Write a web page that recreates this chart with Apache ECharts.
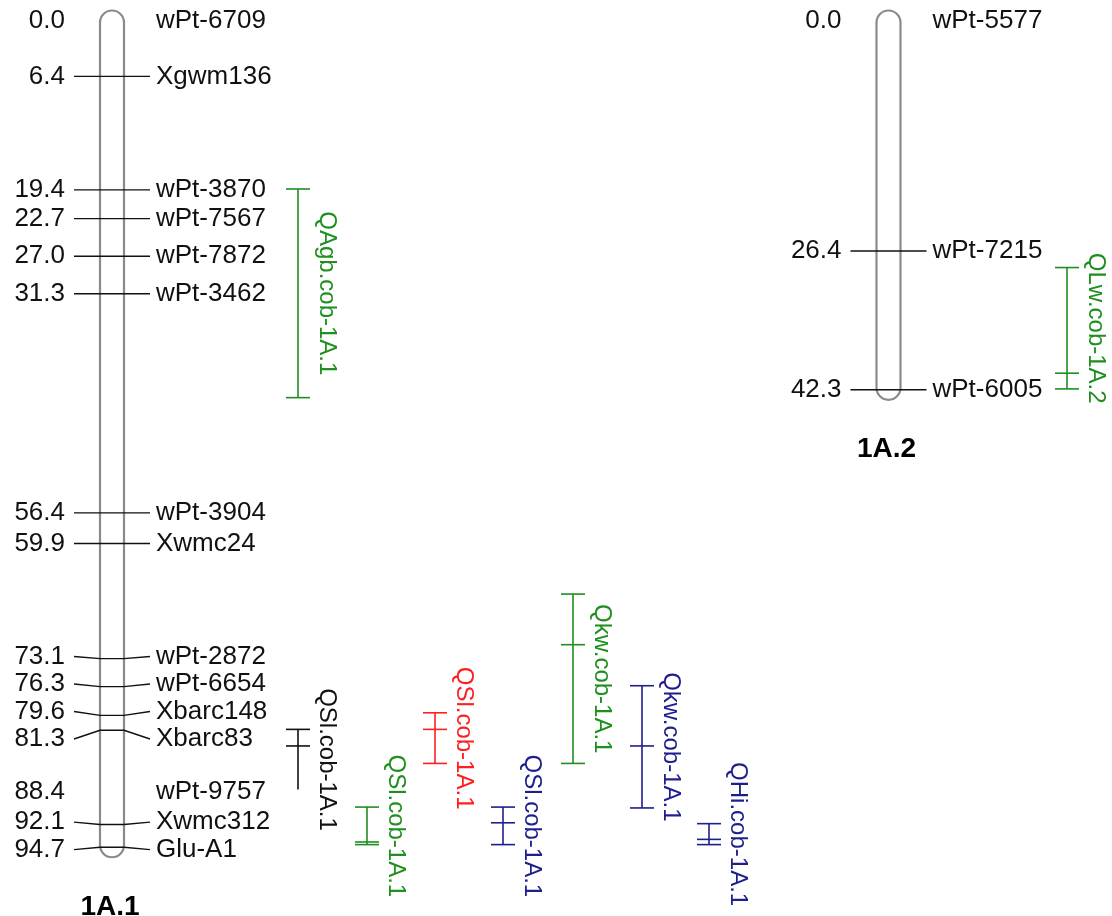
<!DOCTYPE html>
<html><head><meta charset="utf-8">
<script src="https://cdn.jsdelivr.net/npm/echarts@6/dist/echarts.min.js"></script>
<style>html,body{margin:0;padding:0;background:#fff}#c{width:1112px;height:916px}</style>
</head><body><div id="c"></div>
<script>
// ---------- DATA ----------
const chromosomes = ['1A.1', '1A.2'];
const chr1AMarkers = ['wPt-6709','Xgwm136','wPt-3870','wPt-7567','wPt-7872','wPt-3462','wPt-3904','Xwmc24','wPt-2872','wPt-6654','Xbarc148','Xbarc83','wPt-9757','Xwmc312','Glu-A1'];
const chr1APos     = [0.0, 6.4, 19.4, 22.7, 27.0, 31.3, 56.4, 59.9, 73.1, 76.3, 79.6, 81.3, 88.4, 92.1, 94.7];
const chr2AMarkers = ['wPt-5577','wPt-7215','wPt-6005'];
const chr2APos     = [0.0, 26.4, 42.3];
const markersWithoutLine = ['wPt-6709','wPt-5577','wPt-9757'];

const qtlNames  = ['QAgb.cob-1A.1','QSl.cob-1A.1','QSl.cob-1A.1','QSl.cob-1A.1','QSl.cob-1A.1','Qkw.cob-1A.1','Qkw.cob-1A.1','QHi.cob-1A.1','QLw.cob-1A.2'];
const qtlChrom  = ['1A.1','1A.1','1A.1','1A.1','1A.1','1A.1','1A.1','1A.1','1A.2'];
const qtlStart  = [19.3, 81.2, 90.1, 79.3, 90.1, 65.7, 76.2, 92.0, 28.3];
const qtlEnd    = [43.2, 88.1, 94.4, 85.1, 94.4, 85.1, 90.2, 94.4, 42.2];
const qtlTicks  = [[19.3, 43.2], [81.2, 83.1], [90.1, 94.1, 94.4], [79.3, 81.2, 85.1], [90.1, 91.9, 94.4],
                   [65.7, 71.5, 85.1], [76.2, 83.1, 90.2], [92.0, 93.8, 94.4], [28.3, 40.4, 42.2]];

// ---------- LAYOUT / STYLE ----------
const layout = {
  chrX: { '1A.1': 112, '1A.2': 888.5 },
  chrHalfWidth: 12,
  markerHalf: 38,
  numGap: 47,
  nameGap: 44,
  labelGap: 27.5,
  qtlX: [298, 298, 367, 435, 503, 573, 642, 709, 1067],
  qtlColors: ['#1f8f1f', '#111111', '#1f8f1f', '#ff1f1f', '#1e1e8c', '#1f8f1f', '#1e1e8c', '#1e1e8c', '#1f8f1f'],
  capHalf: 12,
  qtlLabelDx: 29
};
const FONT = 'Liberation Sans, Arial, sans-serif';
const chrData = {
  '1A.1': { names: chr1AMarkers, pos: chr1APos },
  '1A.2': { names: chr2AMarkers, pos: chr2APos }
};

function spread(ys, gap) {
  let clusters = ys.map((y, i) => ({ idx: [i], mean: y }));
  let changed = true;
  while (changed) {
    changed = false;
    for (let i = 0; i < clusters.length - 1; i++) {
      const a = clusters[i], b = clusters[i + 1];
      const aEnd = a.mean + gap * (a.idx.length - 1) / 2;
      const bStart = b.mean - gap * (b.idx.length - 1) / 2;
      if (bStart - aEnd < gap - 1e-6) {
        const idx = a.idx.concat(b.idx);
        const mean = idx.reduce((s, j) => s + ys[j], 0) / idx.length;
        clusters.splice(i, 2, { idx, mean });
        changed = true; break;
      }
    }
  }
  const out = [];
  clusters.forEach(c => {
    const start = c.mean - gap * (c.idx.length - 1) / 2;
    c.idx.forEach((j, k) => { out[j] = start + k * gap; });
  });
  return out;
}

function renderChrom(params, api) {
  const name = chromosomes[params.dataIndex];
  const d = chrData[name];
  const cx = api.coord([layout.chrX[name], 0])[0];
  const ys = d.pos.map(p => api.coord([0, p])[1]);
  const ly = spread(ys, layout.labelGap);
  const top = ys[0], bot = ys[ys.length - 1];
  const hw = layout.chrHalfWidth;
  const children = [{
    type: 'rect',
    shape: { x: cx - hw, y: top - 10, width: hw * 2, height: bot - top + 20, r: hw },
    style: { fill: '#fff', stroke: '#8a8a8a', lineWidth: 2.2 }
  }];
  d.names.forEach((m, i) => {
    if (markersWithoutLine.indexOf(m) < 0) {
      children.push({
        type: 'polyline',
        shape: { points: [[cx - layout.markerHalf, ly[i]], [cx - hw, ys[i]], [cx + hw, ys[i]], [cx + layout.markerHalf, ly[i]]] },
        style: { stroke: '#111', lineWidth: 1.4, fill: null }
      });
    }
    children.push({
      type: 'text', x: cx - layout.numGap, y: ly[i],
      style: { text: d.pos[i].toFixed(1), fill: '#111', font: '26px ' + FONT, align: 'right', verticalAlign: 'middle' }
    });
    children.push({
      type: 'text', x: cx + layout.nameGap, y: ly[i],
      style: { text: m, fill: '#111', font: '26px ' + FONT, align: 'left', verticalAlign: 'middle' }
    });
  });
  children.push({
    type: 'text', x: cx - 2, y: bot + 60,
    style: { text: name, fill: '#000', font: 'bold 28px ' + FONT, align: 'center', verticalAlign: 'middle' }
  });
  return { type: 'group', children };
}

function renderQtl(params, api) {
  const i = params.dataIndex;
  const color = layout.qtlColors[i];
  const qx = api.coord([layout.qtlX[i], 0])[0];
  const y0 = api.coord([0, qtlStart[i]])[1];
  const y1 = api.coord([0, qtlEnd[i]])[1];
  const children = [{
    type: 'line', shape: { x1: qx, y1: y0, x2: qx, y2: y1 },
    style: { stroke: color, lineWidth: 1.6 }
  }];
  qtlTicks[i].forEach(t => {
    const ty = api.coord([0, t])[1];
    children.push({
      type: 'line', shape: { x1: qx - layout.capHalf, y1: ty, x2: qx + layout.capHalf, y2: ty },
      style: { stroke: color, lineWidth: 1.6 }
    });
  });
  children.push({
    type: 'text', x: qx + layout.qtlLabelDx, y: (y0 + y1) / 2, rotation: -Math.PI / 2,
    style: { text: qtlNames[i], fill: color, font: '24px ' + FONT, align: 'center', verticalAlign: 'middle' }
  });
  return { type: 'group', children };
}

const chart = echarts.init(document.getElementById('c'), null, { renderer: 'canvas' });
chart.setOption({
  animation: false,
  backgroundColor: '#fff',
  grid: { left: 0, right: 0, top: 20.5, bottom: 22.5 },
  xAxis: { type: 'value', min: 0, max: 1112, show: false },
  yAxis: { type: 'value', min: 0, max: 100, inverse: true, show: false },
  series: [
    { type: 'custom', renderItem: renderChrom, data: chromosomes.map((c, i) => [i]), silent: true },
    { type: 'custom', renderItem: renderQtl, data: qtlNames.map((q, i) => [i, qtlStart[i], qtlEnd[i]]), silent: true }
  ]
});
</script></body></html>
